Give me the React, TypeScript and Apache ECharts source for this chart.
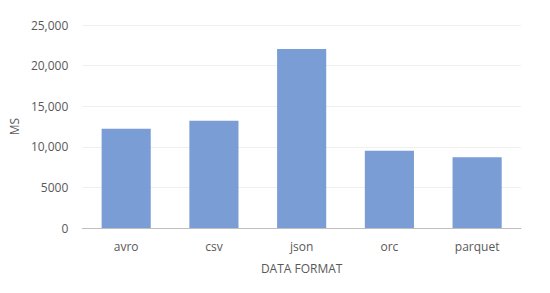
import React, { useEffect, useRef } from "react";
import * as echarts from "echarts";

const categories = ["avro", "csv", "json", "orc", "parquet"];
const values = [12230, 13220, 22040, 9520, 8700];
const yTicks = [0, 5000, 10000, 15000, 20000, 25000];

export default function App() {
  const ref = useRef<HTMLDivElement>(null);
  useEffect(() => {
    const chart = echarts.init(ref.current!, null, { renderer: "svg" });
    const font = "'Open Sans', sans-serif";
    chart.setOption({
      animation: false,
      grid: { left: 78, right: 29, top: 25, bottom: 65 },
      xAxis: {
        type: "category",
        data: categories,
        name: "DATA FORMAT",
        nameLocation: "middle",
        nameGap: 34,
        nameTextStyle: { color: "#595959", fontSize: 12, fontFamily: font },
        axisLine: { lineStyle: { color: "#bfbfbf", width: 1 } },
        axisTick: { show: false },
        axisLabel: { color: "#595959", fontSize: 12, fontFamily: font, margin: 12 },
      },
      yAxis: {
        type: "value",
        min: 0,
        max: 25000,
        interval: 5000,
        name: "MS",
        nameLocation: "middle",
        nameRotate: 90,
        nameGap: 56,
        nameTextStyle: { color: "#595959", fontSize: 12, fontFamily: font },
        axisLine: { show: false },
        axisTick: { show: false },
        splitLine: { lineStyle: { color: "#efefef", width: 1 } },
        axisLabel: {
          color: "#595959",
          fontSize: 12,
          fontFamily: font,
          margin: 14,
          formatter: (v: number) =>
            yTicks.includes(v) ? (v >= 10000 ? v.toLocaleString("en-US") : String(v)) : "",
        },
      },
      series: [
        {
          type: "bar",
          data: values,
          barWidth: "56%",
          itemStyle: { color: "#7b9dd6" },
        },
      ],
    });
    return () => chart.dispose();
  }, []);
  return (
    <div
      ref={ref}
      style={{ position: "fixed", left: 0, top: 0, width: 550, height: 293, background: "#fff" }}
    />
  );
}
